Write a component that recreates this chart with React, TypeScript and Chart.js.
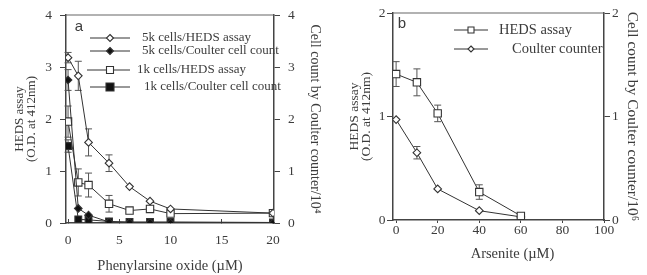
import React, { useEffect, useRef } from 'react';
import { Chart, registerables } from 'chart.js';

Chart.register(...registerables);

const SERIF = '"Liberation Serif", "Times New Roman", serif';
const SANS = '"Liberation Sans", Arial, sans-serif';
const INK = '#333';
const TEXT = '#3c3c3c';
const AXIS = '#444';

// ---------- Panel a : Phenylarsine oxide ----------
const concA = [0, 1, 2, 4, 6, 8, 10, 20];
const heds5k = [3.18, 2.83, 1.55, 1.15, 0.7, 0.42, 0.27, 0.19];
const heds5kErr = [0.1, 0.28, 0.26, 0.16, 0, 0, 0, 0];
const coulter5k = [2.75, 0.28, 0.15, 0.02, 0.01, 0.01, 0.0, 0.0];
const coulter5kErr = [0.2, 0, 0, 0, 0, 0, 0, 0];
const heds1k = [1.95, 0.78, 0.73, 0.37, 0.24, 0.27, 0.18, 0.19];
const heds1kErr = [0.3, 0.26, 0.23, 0.16, 0, 0, 0, 0];
const coulter1k = [1.48, 0.07, 0.06, 0.03, 0.02, 0.02, 0.02, 0.01];
const coulter1kErr = [0.12, 0, 0, 0, 0, 0, 0, 0];
const xTicksA = [0, 5, 10, 15, 20];
const yTicksA = [0, 1, 2, 3, 4];
const labelsA = [
  '5k cells/HEDS assay',
  '5k cells/Coulter cell count',
  '1k cells/HEDS assay',
  '1k cells/Coulter cell count',
];

// ---------- Panel b : Arsenite ----------
const concB = [0, 10, 20, 40, 60];
const hedsB = [1.41, 1.33, 1.03, 0.27, 0.04];
const hedsBErr = [0.12, 0.13, 0.08, 0.07, 0];
const coulterB = [0.97, 0.65, 0.3, 0.09, 0.03];
const coulterBErr = [0, 0.06, 0, 0, 0];
const xTicksB = [0, 20, 40, 60, 80, 100];
const yTicksB = [0, 1, 2];
const labelsB = ['HEDS assay', 'Coulter counter'];

function pts(xs: number[], ys: number[]) {
  return xs.map((x, i) => ({ x, y: ys[i] }));
}

function drawMarker(ctx: CanvasRenderingContext2D, shape: string, filled: boolean, r: number, x: number, y: number) {
  ctx.beginPath();
  if (shape === 'diamond') {
    ctx.moveTo(x, y - r);
    ctx.lineTo(x + r, y);
    ctx.lineTo(x, y + r);
    ctx.lineTo(x - r, y);
    ctx.closePath();
  } else {
    ctx.rect(x - r, y - r, 2 * r, 2 * r);
  }
  ctx.fillStyle = filled ? '#111' : '#fff';
  ctx.fill();
  ctx.lineWidth = 1.1;
  ctx.strokeStyle = INK;
  ctx.stroke();
}

type LegendRow = {
  label: string; shape: string; filled: boolean; r: number;
  dy: number; x1: number; x2: number; mx: number; tx: number;
};

type Decor = {
  legend: LegendRow[];
  legendFont: string;
  letter: string; letterDx: number; letterDy: number;
  extraTitle?: { text: string; dx: number; y: number; font: string };
};

function makeDecor(d: Decor) {
  return {
    id: 'decor',
    beforeDatasetsDraw(chart: any) {
      const ctx: CanvasRenderingContext2D = chart.ctx;
      ctx.save();
      ctx.strokeStyle = '#555';
      ctx.lineWidth = 1;
      chart.data.datasets.forEach((ds: any, i: number) => {
        const meta = chart.getDatasetMeta(i);
        const xs = chart.scales[meta.xAxisID];
        const ys = chart.scales[meta.yAxisID];
        const errs: number[] = ds.errors || [];
        ds.data.forEach((p: any, j: number) => {
          const e = errs[j];
          if (!e) return;
          const px = xs.getPixelForValue(p.x);
          const top = ys.getPixelForValue(p.y + e);
          const bot = ys.getPixelForValue(Math.max(0, p.y - e));
          ctx.beginPath();
          ctx.moveTo(px, top); ctx.lineTo(px, bot);
          ctx.moveTo(px - 3.5, top); ctx.lineTo(px + 3.5, top);
          ctx.moveTo(px - 3.5, bot); ctx.lineTo(px + 3.5, bot);
          ctx.stroke();
        });
      });
      ctx.restore();
    },
    afterDraw(chart: any) {
      const ctx: CanvasRenderingContext2D = chart.ctx;
      const a = chart.chartArea;
      ctx.save();
      // top frame line
      ctx.strokeStyle = '#666';
      ctx.lineWidth = 1.2;
      ctx.beginPath();
      ctx.moveTo(a.left, a.top);
      ctx.lineTo(a.right, a.top);
      ctx.stroke();
      // legend
      ctx.font = d.legendFont;
      ctx.textBaseline = 'middle';
      ctx.textAlign = 'left';
      d.legend.forEach((row) => {
        const y = a.top + row.dy;
        ctx.strokeStyle = INK;
        ctx.lineWidth = 1;
        ctx.beginPath();
        ctx.moveTo(a.left + row.x1, y);
        ctx.lineTo(a.left + row.x2, y);
        ctx.stroke();
        drawMarker(ctx, row.shape, row.filled, row.r, a.left + row.mx, y);
        ctx.fillStyle = TEXT;
        ctx.fillText(row.label, a.left + row.tx, y);
      });
      // panel letter
      ctx.font = '15px ' + SANS;
      ctx.fillStyle = TEXT;
      ctx.textAlign = 'center';
      ctx.fillText(d.letter, a.left + d.letterDx, a.top + d.letterDy);
      if (d.extraTitle) {
        ctx.font = d.extraTitle.font;
        ctx.textAlign = 'center';
        ctx.textBaseline = 'middle';
        ctx.fillText(d.extraTitle.text, (a.left + a.right) / 2 + d.extraTitle.dx, d.extraTitle.y);
      }
      ctx.restore();
    },
  };
}

function series(label: string, xs: number[], ys: number[], errs: number[], shape: string, filled: boolean, r: number, axis: string) {
  return {
    label,
    data: pts(xs, ys),
    errors: errs,
    yAxisID: axis,
    borderColor: INK,
    borderWidth: 1,
    backgroundColor: filled ? '#111' : '#fff',
    pointStyle: shape === 'diamond' ? 'rectRot' : 'rect',
    pointRadius: r,
    pointBorderWidth: 1.1,
    pointBorderColor: INK,
    pointBackgroundColor: filled ? '#111' : '#fff',
    tension: 0,
    fill: false,
  };
}

function yAxis(opts: any) {
  return {
    type: 'linear',
    position: opts.position,
    min: opts.min,
    max: opts.max,
    afterBuildTicks: (s: any) => { s.ticks = opts.ticks.map((v: number) => ({ value: v })); },
    afterFit: (s: any) => { s.width = opts.width; },
    ticks: { font: { family: SERIF, size: 13.5, lineHeight: 1 }, color: TEXT, padding: opts.pad },
    grid: { drawOnChartArea: false, tickLength: 6, color: AXIS, tickWidth: 1 },
    border: { color: AXIS, width: 1.5 },
    title: {
      display: true,
      text: opts.title,
      color: TEXT,
      font: { family: SERIF, size: opts.titleSize, lineHeight: opts.titleLH },
      padding: { top: opts.titlePad, bottom: 0 },
    },
  };
}

function xAxis(opts: any) {
  return {
    type: 'linear',
    position: 'bottom',
    min: opts.min,
    max: opts.max,
    afterBuildTicks: (s: any) => { s.ticks = opts.ticks.map((v: number) => ({ value: v })); },
    afterFit: (s: any) => { s.height = opts.height; },
    ticks: { font: { family: SERIF, size: 13.5, lineHeight: 1 }, color: TEXT, padding: opts.pad },
    grid: { drawOnChartArea: false, tickLength: opts.tl, color: AXIS, tickWidth: 1 },
    border: { color: AXIS, width: 1.5 },
    title: opts.title
      ? {
          display: true,
          text: opts.title,
          color: TEXT,
          font: { family: SERIF, size: 14.5, lineHeight: 1.2 },
          padding: { top: 0, bottom: 0.5 },
        }
      : { display: false },
  };
}

export default function App() {
  const refA = useRef<HTMLCanvasElement>(null);
  const refB = useRef<HTMLCanvasElement>(null);

  useEffect(() => {
    const legendA: LegendRow[] = [
      { label: labelsA[0], shape: 'diamond', filled: false, r: 3.5, dy: 23, x1: 24, x2: 64, mx: 44, tx: 76 },
      { label: labelsA[1], shape: 'diamond', filled: true, r: 3.5, dy: 36, x1: 24, x2: 64, mx: 44, tx: 76 },
      { label: labelsA[2], shape: 'square', filled: false, r: 3.5, dy: 55, x1: 21, x2: 64, mx: 44, tx: 71 },
      { label: labelsA[3], shape: 'square', filled: true, r: 4, dy: 72, x1: 24, x2: 64, mx: 44, tx: 78 },
    ];
    const chartA = new Chart(refA.current as HTMLCanvasElement, {
      type: 'line',
      data: {
        datasets: [
          series(labelsA[0], concA, heds5k, heds5kErr, 'diamond', false, 3.8, 'y'),
          series(labelsA[1], concA, coulter5k, coulter5kErr, 'diamond', true, 3.8, 'y1'),
          series(labelsA[2], concA, heds1k, heds1kErr, 'square', false, 5.2, 'y'),
          series(labelsA[3], concA, coulter1k, coulter1kErr, 'square', true, 4.8, 'y1'),
        ] as any,
      },
      options: {
        animation: false,
        responsive: false,
        layout: { padding: { top: 15, left: 0, right: 0, bottom: 0 } },
        plugins: { legend: { display: false }, tooltip: { enabled: false } },
        scales: {
          x: xAxis({ min: -0.2, max: 20.1, ticks: xTicksA, height: 52, pad: 14.5, tl: -4, title: 'Phenylarsine oxide (\u00B5M)' }),
          y: yAxis({ position: 'left', min: 0, max: 4, ticks: yTicksA, width: 66, pad: 8, title: ['HEDS assay', '(O.D. at 412nm)'], titleSize: 13, titleLH: 0.9, titlePad: 14 }),
          y1: yAxis({ position: 'right', min: 0, max: 4, ticks: yTicksA, width: 56, pad: 8, title: 'Cell count by Coulter counter/10\u2074', titleSize: 14, titleLH: 1.2, titlePad: 6.6 }),
        } as any,
      },
      plugins: [makeDecor({ legend: legendA, legendFont: '13px ' + SERIF, letter: 'a', letterDx: 13, letterDy: 12 })],
    });

    const legendB: LegendRow[] = [
      { label: labelsB[0], shape: 'square', filled: false, r: 3, dy: 17, x1: 61, x2: 95, mx: 78, tx: 106 },
      { label: labelsB[1], shape: 'diamond', filled: false, r: 3, dy: 36, x1: 61, x2: 95, mx: 78, tx: 119 },
    ];
    const chartB = new Chart(refB.current as HTMLCanvasElement, {
      type: 'line',
      data: {
        datasets: [
          series(labelsB[0], concB, hedsB, hedsBErr, 'square', false, 5.2, 'y'),
          series(labelsB[1], concB, coulterB, coulterBErr, 'diamond', false, 3.8, 'y1'),
        ] as any,
      },
      options: {
        animation: false,
        responsive: false,
        layout: { padding: { top: 13, left: 0, right: 0, bottom: 0 } },
        plugins: { legend: { display: false }, tooltip: { enabled: false } },
        scales: {
          x: xAxis({ min: -1.5, max: 100, ticks: xTicksB, height: 55, pad: 1, tl: 3 }),
          y: yAxis({ position: 'left', min: 0, max: 2, ticks: yTicksB, width: 63, pad: 1.5, title: ['HEDS assay', '(O.D. at 412nm)'], titleSize: 13.5, titleLH: 0.9, titlePad: 18 }),
          y1: yAxis({ position: 'right', min: 0, max: 2, ticks: yTicksB, width: 43, pad: 2, title: 'Cell count by Coulter counter/10\u2076', titleSize: 15.5, titleLH: 1.2, titlePad: 5.7 }),
        } as any,
      },
      plugins: [makeDecor({
        legend: legendB, legendFont: '14.5px ' + SERIF, letter: 'b', letterDx: 9, letterDy: 11,
        extraTitle: { text: 'Arsenite (\u00B5M)', dx: 14, y: 254, font: '14.5px ' + SERIF },
      })],
    });

    return () => {
      chartA.destroy();
      chartB.destroy();
    };
  }, []);

  return (
    <div style={{ position: 'absolute', left: 0, top: 0, width: 647, height: 275, background: '#fff' }}>
      <canvas ref={refA} width={330} height={275} style={{ position: 'absolute', left: 0, top: 0 }} />
      <canvas ref={refB} width={317} height={275} style={{ position: 'absolute', left: 330, top: 0 }} />
    </div>
  );
}
